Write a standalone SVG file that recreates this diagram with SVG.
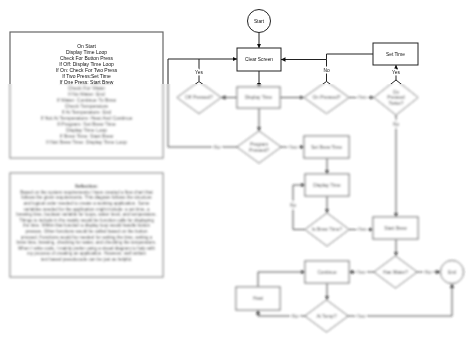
<svg xmlns="http://www.w3.org/2000/svg" width="474" height="343" viewBox="0 0 474 343">
<style>
text{font-family:"Liberation Sans",Arial,sans-serif;fill:#111;text-anchor:middle}
.n{font-size:4.8px}
.lb{font-size:4.8px;paint-order:stroke;stroke:#fff;stroke-width:3px;stroke-linejoin:round}
.b1{font-size:5px}
.b2{font-size:4.5px}
.ttl{font-weight:bold}
.shape{fill:#fff;stroke:#222;stroke-width:1}
.panel{fill:#fff;stroke:#666;stroke-width:1.2}
.c{fill:none;stroke:#222;stroke-width:1}
.ca{fill:none;stroke:#222;stroke-width:1;marker-end:url(#ah)}
</style>
<defs>
<marker id="ah" viewBox="0 0 6 6" refX="6" refY="3" markerWidth="4.5" markerHeight="4.5" markerUnits="userSpaceOnUse" orient="auto"><path d="M0,0 L6,3 L0,6 z" fill="#111"/></marker>
<filter id="veil" filterUnits="userSpaceOnUse" primitiveUnits="userSpaceOnUse" x="0" y="0" width="474" height="343">
<feOffset in="SourceGraphic" dx="0" dy="0" x="0" y="0" width="474" height="84" result="top"/>
<feGaussianBlur in="SourceGraphic" stdDeviation="1" x="0" y="84" width="474" height="259" result="bl"/>
<feComponentTransfer in="bl" x="0" y="84" width="474" height="259" result="bl2"><feFuncA type="linear" slope="0.8"/></feComponentTransfer>
<feMerge><feMergeNode in="top"/><feMergeNode in="bl2"/></feMerge>
</filter>
</defs>
<rect width="474" height="343" fill="#fff"/>
<g filter="url(#veil)">
<g id="panel-steps">
<rect class="panel" x="10" y="32" width="153" height="126"/>
<text class="b1" x="86.5" y="47.8">On Start</text>
<text class="b1" x="86.5" y="53.8">Display Time Loop</text>
<text class="b1" x="86.5" y="59.8">Check For Button Press</text>
<text class="b1" x="86.5" y="65.8">If Off: Display Time Loop</text>
<text class="b1" x="86.5" y="71.8">If On: Check For Two Press</text>
<text class="b1" x="86.5" y="77.8">If Two Press:Set Time</text>
<text class="b1" x="86.5" y="83.8">If One Press: Start Brew</text>
<text class="b1" x="86.5" y="89.8">Check For Water</text>
<text class="b1" x="86.5" y="95.8">If No Water: End</text>
<text class="b1" x="86.5" y="101.8">If Water: Continue To Brew</text>
<text class="b1" x="86.5" y="107.8">Check Temperature</text>
<text class="b1" x="86.5" y="113.8">If At Temperature: End</text>
<text class="b1" x="86.5" y="119.8">If Not At Temperature: Heat And Continue</text>
<text class="b1" x="86.5" y="125.8">If Program: Set Brew Time</text>
<text class="b1" x="86.5" y="131.8">Display Time Loop</text>
<text class="b1" x="86.5" y="137.8">If Brew Time: Start Brew</text>
<text class="b1" x="86.5" y="143.8">If Not Brew Time: Display Time Loop</text>
</g>
<g id="panel-reflection">
<rect class="panel" x="10" y="173" width="153" height="104"/>
<text class="b2 ttl" x="86.5" y="188.1">Reflection:</text>
<text class="b2" x="86.5" y="193.7">Based on the system requirements I have created a flow chart that</text>
<text class="b2" x="86.5" y="199.3">follows the given requirements. This diagram follows the structure</text>
<text class="b2" x="86.5" y="204.9">and logical order needed to create a working application. Some</text>
<text class="b2" x="86.5" y="210.5">variables needed for the application might include: a set time, a</text>
<text class="b2" x="86.5" y="216.1">brewing time, boolean variable for loops, water level, and temperature.</text>
<text class="b2" x="86.5" y="221.7">Things to include in the mainly would be function calls for displaying</text>
<text class="b2" x="86.5" y="227.3">the time. Within that function a display loop would handle button</text>
<text class="b2" x="86.5" y="232.9">presses. Other functions would be called based on the button</text>
<text class="b2" x="86.5" y="238.5">pressed. Functions would be needed for setting the time, setting a</text>
<text class="b2" x="86.5" y="244.1">brew time, brewing, checking for water, and checking the temperature.</text>
<text class="b2" x="86.5" y="249.7">When I write code, I mainly prefer using a visual diagram to help with</text>
<text class="b2" x="86.5" y="255.3">my process of creating an application. However, well written</text>
<text class="b2" x="86.5" y="260.9">text based pseudocode can be just as helpful.</text>
</g>
<g id="connectors">
<path class="ca" d="M259,32.5 V48"/>
<path class="ca" d="M237,147 H168 V59 H237"/>
<path class="c" d="M199,81 V59"/>
<path class="ca" d="M259,71 V87"/>
<path class="ca" d="M237,97.5 H221"/>
<path class="ca" d="M280,97.5 H304"/>
<path class="ca" d="M373,54 H326.5 V59.5 H281"/>
<path class="c" d="M326.5,81.5 V59.5"/>
<path class="ca" d="M348.5,97.5 H374"/>
<path class="ca" d="M396,80 V65"/>
<path class="ca" d="M396,115 V217"/>
<path class="ca" d="M259,108 V131"/>
<path class="ca" d="M281,147 H304"/>
<path class="ca" d="M327,158 V174"/>
<path class="ca" d="M327,196 V213"/>
<path class="ca" d="M305,229.5 H293 V185 H305"/>
<path class="ca" d="M349,229.5 H373"/>
<path class="ca" d="M396,239 V256"/>
<path class="ca" d="M374,272 H349"/>
<path class="ca" d="M417,272 H440.5"/>
<path class="ca" d="M327,283 V300"/>
<path class="ca" d="M305,316 H258 V310"/>
<path class="ca" d="M258,287 V272 H305"/>
<path class="ca" d="M348,316 H452 V283.5"/>
<text class="lb" x="199" y="73.7">Yes</text>
<text class="lb" x="217" y="148.7">No</text>
<text class="lb" x="326.5" y="71.7">No</text>
<text class="lb" x="362" y="99.2">Yes</text>
<text class="lb" x="396" y="73.7">Yes</text>
<text class="lb" x="396" y="125.7">No</text>
<text class="lb" x="293" y="148.7">Yes</text>
<text class="lb" x="293" y="206.7">No</text>
<text class="lb" x="362" y="231.2">Yes</text>
<text class="lb" x="361" y="273.7">Yes</text>
<text class="lb" x="428" y="273.7">No</text>
<text class="lb" x="295" y="317.7">No</text>
<text class="lb" x="361" y="317.7">Yes</text>
</g>
<g id="start"><circle class="shape" cx="259" cy="21" r="11.5"/><text class="n" x="259" y="22.7">Start</text></g>
<g id="clear-screen"><rect class="shape" x="237" y="48" width="44" height="23"/><text class="n" x="259" y="61.2">Clear Screen</text></g>
<g id="set-time"><rect class="shape" x="373" y="43" width="45" height="22"/><text class="n" x="395.5" y="55.7">Set Time</text></g>
<g id="display-time"><rect class="shape" x="237" y="87" width="43" height="21"/><text class="n" x="258.5" y="99.2">Display Time</text></g>
<g id="off-pressed"><path class="shape" d="M177,97.5 L199,81.5 L221,97.5 L199,113.5 Z"/><text class="n" x="199" y="99.2">Off Pressed?</text></g>
<g id="on-pressed"><path class="shape" d="M304,97.5 L326.5,81.5 L349,97.5 L326.5,113.5 Z"/><text class="n" x="326.5" y="99.2">On Pressed?</text></g>
<g id="on-pressed-twice"><path class="shape" d="M374,97.5 L396,80 L418,97.5 L396,115 Z"/><text class="n" x="396" y="93.5">On</text><text class="n" x="396" y="99.2">Pressed</text><text class="n" x="396" y="104.9">Twice?</text></g>
<g id="program-pressed"><path class="shape" d="M237,147 L259,131 L281,147 L259,163 Z"/><text class="n" x="259" y="145.9">Program</text><text class="n" x="259" y="151.6">Pressed?</text></g>
<g id="set-brew-time"><rect class="shape" x="304" y="136" width="45" height="22"/><text class="n" x="326.5" y="148.7">Set Brew Time</text></g>
<g id="display-time-2"><rect class="shape" x="305" y="174" width="44" height="22"/><text class="n" x="327" y="186.7">Display Time</text></g>
<g id="is-brew-time"><path class="shape" d="M305,229.5 L327,213 L349,229.5 L327,246 Z"/><text class="n" x="327" y="231.2">Is Brew Time?</text></g>
<g id="start-brew"><rect class="shape" x="373" y="217" width="45" height="22"/><text class="n" x="395.5" y="229.7">Start Brew</text></g>
<g id="has-water"><path class="shape" d="M374,272 L395.5,256 L417,272 L395.5,288 Z"/><text class="n" x="395.5" y="273.7">Has Water?</text></g>
<g id="end"><circle class="shape" cx="452" cy="272" r="11.5"/><text class="n" x="452" y="273.7">End</text></g>
<g id="continue"><rect class="shape" x="305" y="261" width="44" height="22"/><text class="n" x="327" y="273.7">Continue</text></g>
<g id="at-temp"><path class="shape" d="M305,316 L326.5,300 L348,316 L326.5,332 Z"/><text class="n" x="326.5" y="317.7">At Temp?</text></g>
<g id="heat"><rect class="shape" x="236" y="287" width="44" height="23"/><text class="n" x="258" y="300.2">Heat</text></g>
</g>
</svg>
